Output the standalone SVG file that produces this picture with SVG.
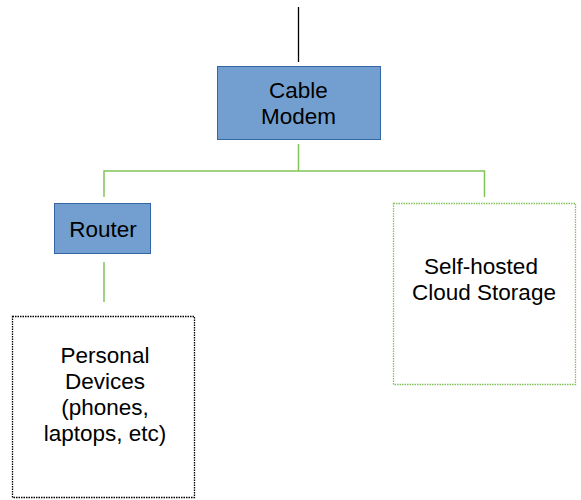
<svg xmlns="http://www.w3.org/2000/svg" width="581" height="500" viewBox="0 0 581 500">
<style>
.box{fill:#729fcf;stroke:#3465a4;stroke-width:1}
.t{font-family:"Liberation Sans",Arial,sans-serif;font-size:22.5px;fill:#000;text-anchor:middle}
.g{stroke:#81c35a;stroke-width:1.5;fill:none}
</style>
<rect width="581" height="500" fill="#fff"/>
<g id="connectors">
<line x1="298.5" y1="7" x2="298.5" y2="62" stroke="#000" stroke-width="1.3"/>
<path class="g" d="M298.5 144 V171 M104 197 V171 H484.5 V197 M104 262 V302"/>
</g>
<g id="modem">
<rect class="box" x="217.5" y="66.5" width="163" height="73"/>
<text class="t" x="298.5" y="98">Cable</text>
<text class="t" x="298.5" y="124">Modem</text>
</g>
<g id="router">
<rect class="box" x="54.5" y="203.5" width="96" height="50"/>
<text class="t" x="103" y="237">Router</text>
</g>
<g id="storage">
<rect x="393.5" y="203.5" width="182" height="181" fill="none" stroke="#81c35a" stroke-width="1.3" stroke-dasharray="1.5,1"/>
<text class="t" x="481" y="274">Self-hosted</text>
<text class="t" x="484" y="300">Cloud Storage</text>
</g>
<g id="devices">
<rect x="12.5" y="316.5" width="182" height="181" fill="none" stroke="#000" stroke-width="1.3" stroke-dasharray="1.5,1"/>
<text class="t" x="105" y="363">Personal</text>
<text class="t" x="105" y="389">Devices</text>
<text class="t" x="105" y="415">(phones,</text>
<text class="t" x="105" y="441">laptops, etc)</text>
</g>
</svg>
